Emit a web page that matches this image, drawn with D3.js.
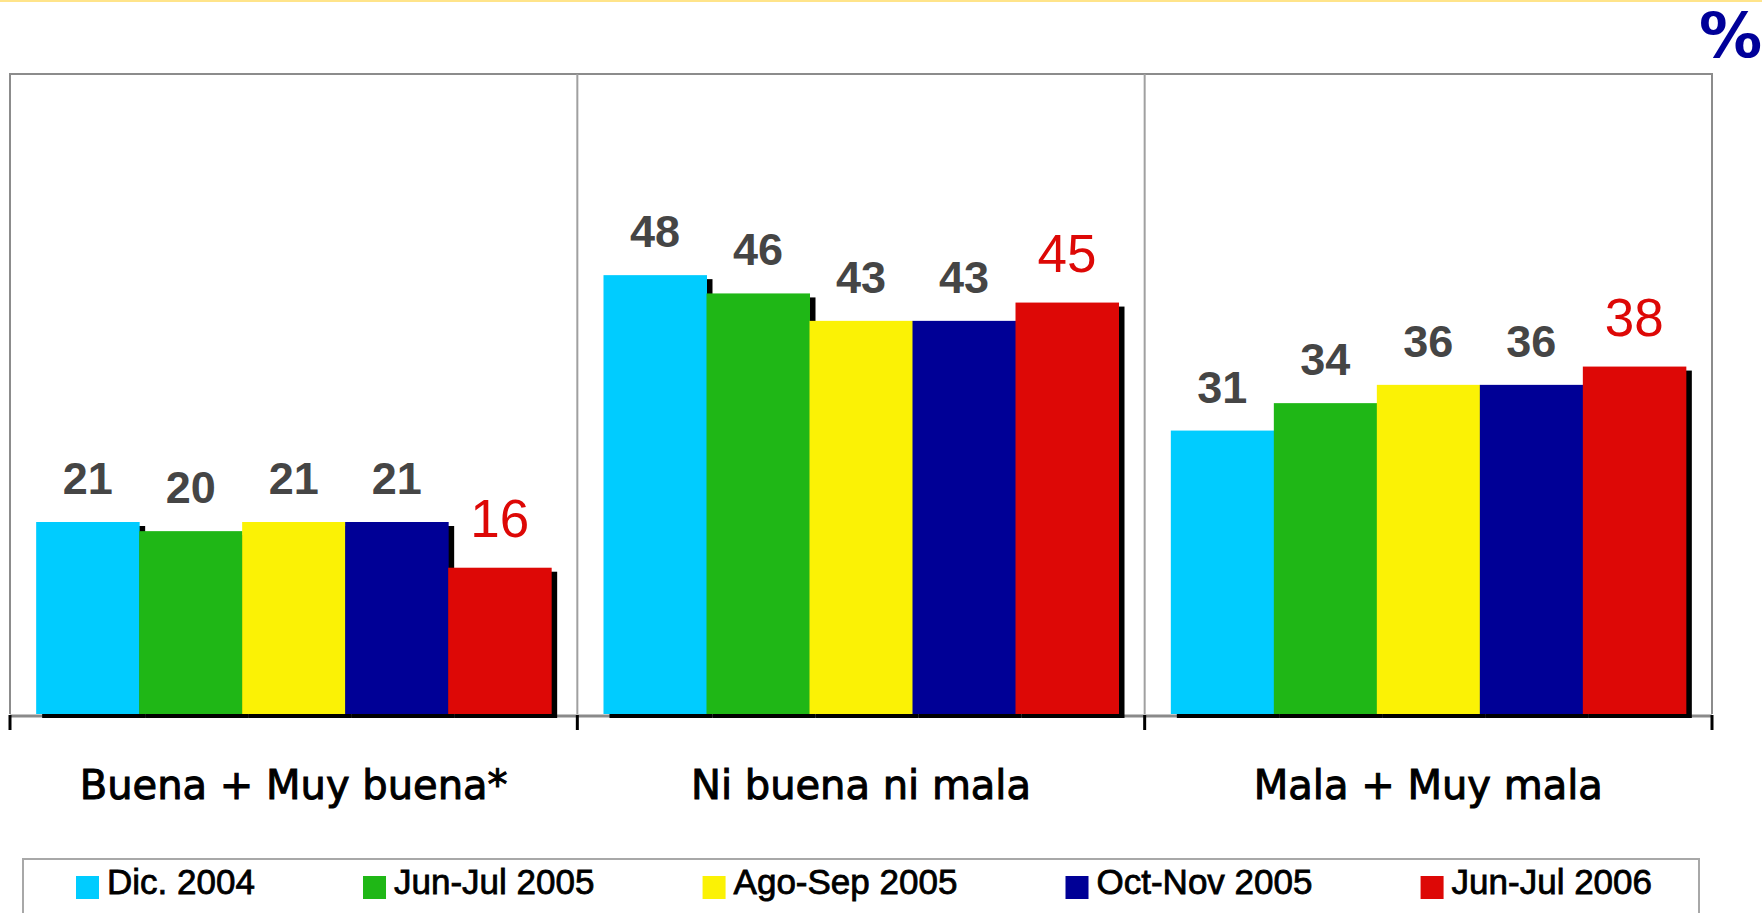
<!DOCTYPE html>
<html>
<head>
<meta charset="utf-8">
<script src="https://cdn.jsdelivr.net/npm/d3@7"></script>
<style>
  body { margin: 0; background: #fff; }
  svg { display: block; }
</style>
</head>
<body>
<svg class="Chart"></svg>
<script>
// categorias y periodos
const categories = ["Buena + Muy buena*", "Ni buena ni mala", "Mala + Muy mala"];
const periods = ["Dic. 2004", "Jun-Jul 2005", "Ago-Sep 2005", "Oct-Nov 2005", "Jun-Jul 2006"];
const periodColors = ["#00ccff", "#1fb716", "#fbf205", "#000096", "#dd0806"];

// valores (%) por periodo, en el orden de categories
const dic2004 = [21, 48, 31];
const junJul2005 = [20, 46, 34];
const agoSep2005 = [21, 43, 36];
const octNov2005 = [21, 43, 36];
const junJul2006 = [16, 45, 38];

const series = [dic2004, junJul2005, agoSep2005, octNov2005, junJul2006];

function drawChart(){
    let width = 1762, height = 913;
    let plot = {left: 10, right: 1712, top: 74, bottom: 714};
    let svg = d3.select(".Chart")
        .attr("width", width)
        .attr("height", height);

    let rows = [];
    categories.forEach((c, i) => {
        periods.forEach((p, j) => {
            rows.push({cat: c, period: p, idx: j, value: series[j][i]});
        });
    });

    let x0 = d3.scaleBand().domain(categories).range([plot.left, plot.right]);
    let x1 = d3.scaleBand().domain(periods).range([0, x0.bandwidth()])
        .paddingInner(0).paddingOuter(0.254);
    let y = d3.scaleLinear().domain([0, 70]).range([plot.bottom, plot.top]);
    let color = d3.scaleOrdinal().domain(periods).range(periodColors);

    // linea amarilla superior
    svg.append("rect")
        .attr("x", 0).attr("y", 0)
        .attr("width", width).attr("height", 2)
        .attr("fill", "#ffe48a");

    // simbolo %
    svg.append("text")
        .attr("x", 1762).attr("y", 57)
        .attr("text-anchor", "end")
        .attr("font-family", "DejaVu Sans, Verdana, sans-serif")
        .attr("font-weight", "bold")
        .attr("font-size", 63)
        .attr("fill", "#000099")
        .text("%");

    // marco
    let frame = svg.append("g").attr("class", "frame");
    frame.append("path")
        .attr("d", `M${plot.left},${plot.bottom}V${plot.top}H${plot.right}V${plot.bottom}`)
        .attr("fill", "none")
        .attr("stroke", "#8c8c8c")
        .attr("stroke-width", 2);
    frame.selectAll("line.div")
        .data(categories.slice(1))
        .join("line")
        .attr("class", "div")
        .attr("x1", d => x0(d)).attr("x2", d => x0(d))
        .attr("y1", plot.top).attr("y2", plot.bottom)
        .attr("stroke", "#a0a0a0")
        .attr("stroke-width", 2);

    // eje
    svg.append("line")
        .attr("x1", plot.left).attr("x2", plot.right)
        .attr("y1", plot.bottom + 2).attr("y2", plot.bottom + 2)
        .attr("stroke", "#8a8a8a")
        .attr("stroke-width", 3);

    let tickX = categories.map(c => x0(c)).concat([plot.right]);
    svg.selectAll("line.tick")
        .data(tickX)
        .join("line")
        .attr("class", "tick")
        .attr("x1", d => d).attr("x2", d => d)
        .attr("y1", plot.bottom + 1).attr("y2", plot.bottom + 16)
        .attr("stroke", "#000")
        .attr("stroke-width", 3);

    // sombras
    let dx = 6, dy = 4;
    svg.append("g").selectAll("rect")
        .data(rows)
        .join("rect")
        .attr("x", d => x0(d.cat) + x1(d.period) + dx)
        .attr("y", d => y(d.value) + dy)
        .attr("width", x1.bandwidth())
        .attr("height", d => plot.bottom - y(d.value))
        .attr("fill", "#000");

    // barras
    svg.append("g").selectAll("rect")
        .data(rows)
        .join("rect")
        .attr("x", d => x0(d.cat) + x1(d.period))
        .attr("y", d => y(d.value))
        .attr("width", x1.bandwidth() + 0.5)
        .attr("height", d => plot.bottom - y(d.value))
        .attr("fill", d => color(d.period));

    // etiquetas de valor
    svg.append("g").selectAll("text")
        .data(rows)
        .join("text")
        .attr("x", d => x0(d.cat) + x1(d.period) + x1.bandwidth() / 2)
        .attr("y", d => y(d.value) - (d.idx == 4 ? 31 : 28))
        .attr("text-anchor", "middle")
        .attr("font-family", "Liberation Sans, Arial, sans-serif")
        .attr("font-weight", d => d.idx == 4 ? "normal" : "bold")
        .attr("font-size", d => d.idx == 4 ? 53 : 45)
        .attr("fill", d => d.idx == 4 ? "#dd0806" : "#454545")
        .text(d => d.value);

    // etiquetas de categoria
    svg.append("g").selectAll("text")
        .data(categories)
        .join("text")
        .attr("x", d => x0(d) + x0.bandwidth() / 2)
        .attr("y", 799)
        .attr("text-anchor", "middle")
        .attr("font-family", "DejaVu Sans, Tahoma, sans-serif")
        .attr("font-size", 40)
        .attr("fill", "#000")
        .attr("stroke", "#000")
        .attr("stroke-width", 1)
        .text(d => d);

    // leyenda
    let legend = svg.append("g").attr("class", "legend");
    legend.append("rect")
        .attr("x", 23).attr("y", 859)
        .attr("width", 1699 - 23).attr("height", 80)
        .attr("fill", "#fff")
        .attr("stroke", "#a8a8a8")
        .attr("stroke-width", 2);

    let items = legend.selectAll("g.item")
        .data(periods)
        .join("g")
        .attr("class", "item");
    items.append("rect")
        .attr("width", 23).attr("height", 23)
        .attr("y", 876)
        .attr("fill", d => color(d));
    items.append("text")
        .attr("x", 31)
        .attr("y", 894)
        .attr("font-family", "Liberation Sans, Arial, sans-serif")
        .attr("font-size", 35)
        .attr("fill", "#000")
        .attr("stroke", "#000")
        .attr("stroke-width", 0.8)
        .text(d => d);

    let widths = [];
    items.select("text").each(function(){ widths.push(31 + this.getComputedTextLength()); });
    let start = 76, end = 1652;
    let gap = (end - start - d3.sum(widths)) / (periods.length - 1);
    let pos = start;
    items.attr("transform", (d, i) => {
        let t = `translate(${pos},0)`;
        pos += widths[i] + gap;
        return t;
    });
}

drawChart();
</script>
</body>
</html>
